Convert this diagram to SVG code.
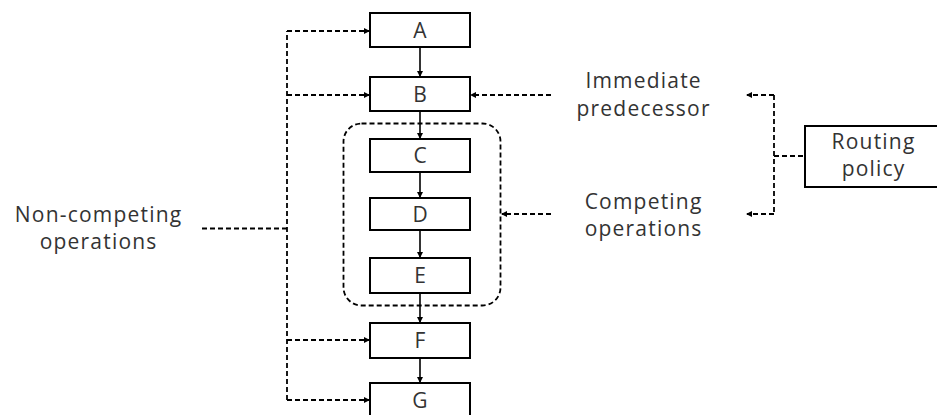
<svg xmlns="http://www.w3.org/2000/svg" width="937" height="415" viewBox="0 0 937 415">
<style>
.box{fill:#fff;stroke:#000;stroke-width:2}
.t{font-family:"Open Sans","Noto Sans",sans-serif;font-size:21px;letter-spacing:1.2px;fill:#333;text-anchor:middle}
.s{fill:none;stroke:#000;stroke-width:1.6}
.d{fill:none;stroke:#000;stroke-width:1.8;stroke-dasharray:5 3}
</style>
<defs>
<marker id="ah" markerWidth="6" markerHeight="6" refX="5" refY="3" orient="auto" markerUnits="userSpaceOnUse">
<path d="M0,0 L6,3 L0,6 Z" fill="#000"/>
</marker>
</defs>
<rect x="0" y="0" width="937" height="415" fill="#fff"/>
<g id="connectors">
<rect x="343.5" y="123.5" width="157" height="182" rx="18" ry="18" class="d"/>
<line x1="420" y1="47" x2="420" y2="76" class="s" marker-end="url(#ah)"/>
<line x1="420" y1="111" x2="420" y2="138" class="s" marker-end="url(#ah)"/>
<line x1="420" y1="172" x2="420" y2="197" class="s" marker-end="url(#ah)"/>
<line x1="420" y1="230" x2="420" y2="257" class="s" marker-end="url(#ah)"/>
<line x1="420" y1="293" x2="420" y2="322" class="s" marker-end="url(#ah)"/>
<line x1="420" y1="358" x2="420" y2="382" class="s" marker-end="url(#ah)"/>
<path d="M287,400 L287,31" class="d"/>
<line x1="287" y1="31" x2="369" y2="31" class="d" marker-end="url(#ah)"/>
<line x1="287" y1="95" x2="369" y2="95" class="d" marker-end="url(#ah)"/>
<line x1="287" y1="340" x2="369" y2="340" class="d" marker-end="url(#ah)"/>
<line x1="287" y1="400" x2="369" y2="400" class="d" marker-end="url(#ah)"/>
<line x1="202" y1="228.5" x2="287" y2="228.5" class="d"/>
<line x1="551" y1="95" x2="471" y2="95" class="d" marker-end="url(#ah)"/>
<line x1="551" y1="214" x2="502" y2="214" class="d" marker-end="url(#ah)"/>
<path d="M774,95 L774,215" class="d"/>
<line x1="774" y1="95" x2="747" y2="95" class="d" marker-end="url(#ah)"/>
<line x1="774" y1="214" x2="747" y2="214" class="d" marker-end="url(#ah)"/>
<line x1="774" y1="156" x2="805" y2="156" class="d"/>
</g>
<g id="A"><rect x="370" y="13" width="100" height="34" class="box"/><text x="420.6" y="38" class="t">A</text></g>
<g id="B"><rect x="370" y="77" width="100" height="34" class="box"/><text x="420.6" y="102" class="t">B</text></g>
<g id="C"><rect x="370" y="139" width="100" height="33" class="box"/><text x="420.6" y="163" class="t">C</text></g>
<g id="D"><rect x="370" y="198" width="100" height="32" class="box"/><text x="420.6" y="222" class="t">D</text></g>
<g id="E"><rect x="370" y="258" width="100" height="35" class="box"/><text x="420.6" y="283" class="t">E</text></g>
<g id="F"><rect x="370" y="323" width="100" height="35" class="box"/><text x="420.6" y="348" class="t">F</text></g>
<g id="G"><rect x="370" y="383" width="100" height="40" class="box"/><text x="420.6" y="408" class="t">G</text></g>
<g id="routing"><rect x="805" y="126" width="140" height="61" class="box"/><text x="873.6" y="149" class="t">Routing</text><text x="873.6" y="176" class="t">policy</text></g>
<g id="immediate"><text x="643.6" y="88" class="t">Immediate</text><text x="643.6" y="116" class="t">predecessor</text></g>
<g id="competing"><text x="643.6" y="209" class="t">Competing</text><text x="643.6" y="236" class="t">operations</text></g>
<g id="noncompeting"><text x="98.6" y="222" class="t">Non-competing</text><text x="98.6" y="249" class="t">operations</text></g>
</svg>
